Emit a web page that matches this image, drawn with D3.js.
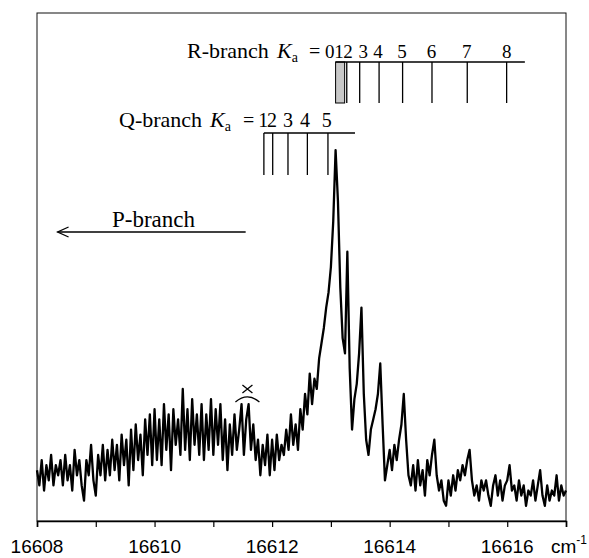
<!DOCTYPE html>
<html>
<head>
<meta charset="utf-8">
<script src="https://cdn.jsdelivr.net/npm/d3@7"></script>
<style>
    body { margin: 0; background: #fff; }
    .serif { font-family: "Liberation Serif", "Times New Roman", serif; }
    .sans { font-family: "Liberation Sans", Arial, sans-serif; }
</style>
</head>
<body>
<div id="chart"></div>
<script>
// spectrum, sampled every 0.04 cm-1 starting at 16608
var waveStart = 16608;
var waveStep = 0.04;
var intensity = [
    10, 7, 12, 6, 11, 8, 13, 7, 11, 9,
    12, 7, 13, 8, 11, 6, 14, 9, 12, 7,
    4, 12, 9, 15, 8, 5, 13, 9, 15, 8,
    14, 9, 16, 10, 15, 8, 17, 11, 16, 7,
    18, 10, 19, 12, 17, 9, 20, 13, 21, 11,
    22, 12, 20, 11, 23, 14, 21, 10, 22, 15,
    20, 13, 26, 14, 22, 12, 24, 15, 21, 13,
    23, 12, 21, 14, 24, 13, 22, 15, 23, 12,
    20, 10, 19, 13, 21, 14, 18, 23, 13, 20,
    23, 14, 19, 12, 16, 9, 15, 11, 17, 9,
    16, 10, 17, 12, 15, 13, 18, 14, 21, 15,
    19, 14, 22, 18, 25, 21, 29, 23, 28, 26,
    32, 35, 38, 42, 45, 50, 59, 73, 63, 46,
    36, 33, 53, 30, 18, 24, 27, 33, 42, 25,
    16, 13, 18, 20, 22, 25, 31, 19, 8, 11,
    14, 10, 15, 12, 16, 19, 25, 16, 9, 7,
    11, 6, 12, 7, 10, 5, 12, 9, 13, 16,
    9, 6, 8, 4, 3, 8, 5, 9, 6, 10,
    8, 11, 9, 12, 14, 8, 5, 7, 4, 8,
    6, 8, 5, 3, 7, 9, 5, 8, 4, 7,
    8, 11, 6, 7, 4, 8, 5, 7, 3, 6,
    5, 8, 4, 7, 10, 5, 3, 7, 4, 6,
    5, 9, 4, 7, 5, 6
];

var xTicks = [16608, 16609, 16610, 16611, 16612, 16613, 16614, 16615, 16616, 16617];
var xTickLabels = [16608, 16610, 16612, 16614, 16616];

// assignment combs
var rLines = [16613.08, 16613.20, 16613.27, 16613.49, 16613.82, 16614.22, 16614.72, 16615.32, 16615.99];
var rLabels = ["0", "1", "2", "3", "4", "5", "6", "7", "8"];
var rLabelPos = [16612.98, 16613.14, 16613.29, 16613.55, 16613.80, 16614.21, 16614.71, 16615.31, 16615.99];
var rEnd = 16616.30;
var qLines = [16611.86, 16612.01, 16612.27, 16612.60, 16612.95];
var qLabels = ["1", "2", "3", "4", "5"];
var qLabelPos = [16611.85, 16612.00, 16612.27, 16612.56, 16612.93];
var qEnd = 16613.41;

// P-branch arrow (from, to) and the crossed-out feature
var pArrow = [16611.55, 16608.35];
var crossMark = [16611.58, 26];

var width = 589, height = 558;
var margin = {left: 37, right: 23, top: 13, bottom: 37};

var svg = d3.select("#chart").append("svg")
    .attr("width", width)
    .attr("height", height);

var x = d3.scaleLinear()
    .domain([16608, 16617])
    .range([margin.left, width - margin.right]);
var y = d3.scaleLinear()
    .domain([0, 100])
    .range([height - margin.bottom, margin.top]);

// frame
svg.append("rect")
    .attr("x", x(16608))
    .attr("y", y(100))
    .attr("width", x(16617) - x(16608))
    .attr("height", y(0) - y(100))
    .attr("fill", "none")
    .attr("stroke", "#111")
    .attr("stroke-width", 1);

// x axis
var axis = d3.axisBottom(x)
    .tickValues(xTicks)
    .tickSize(6)
    .tickFormat("");
var gx = svg.append("g")
    .attr("transform", "translate(0," + y(0) + ")")
    .call(axis);
gx.select(".domain").attr("stroke-width", 1.6);
gx.selectAll(".tick line").attr("stroke-width", 1.2);

svg.selectAll(".xlab")
    .data(xTickLabels)
    .enter().append("text")
    .attr("class", "xlab sans")
    .attr("x", function (d) { return x(d); })
    .attr("y", 553)
    .attr("text-anchor", "middle")
    .attr("font-size", 19)
    .text(function (d) { return d; });

var unit = svg.append("text")
    .attr("class", "sans")
    .attr("x", 551)
    .attr("y", 553)
    .attr("font-size", 19)
    .text("cm");
unit.append("tspan")
    .attr("font-size", 12)
    .attr("dy", -9)
    .text("-1");

// spectrum trace
var line = d3.line()
    .x(function (d, i) { return x(waveStart + i * waveStep); })
    .y(function (d) { return y(d); });
svg.append("path")
    .datum(intensity)
    .attr("d", line)
    .attr("fill", "none")
    .attr("stroke", "#000")
    .attr("stroke-width", 2.3)
    .attr("stroke-linejoin", "round");

// label "X-branch Ka =" with its pieces at fixed x
function branchLabel(name, x0, xK, xEq, yb) {
    var t = svg.append("text")
        .attr("class", "serif")
        .attr("x", x0)
        .attr("y", yb)
        .attr("font-size", 22);
    t.append("tspan").text(name);
    t.append("tspan").attr("x", xK).attr("font-style", "italic").text("K");
    t.append("tspan").attr("font-size", 14).attr("dy", 4).text("a");
    t.append("tspan").attr("x", xEq).attr("dy", -4).attr("font-size", 20).text("=");
}

// R-branch comb
var rY = 62, rLen = 41;
branchLabel("R-branch", 187, 277, 309, 58);

svg.append("rect")
    .attr("x", x(rLines[0]))
    .attr("y", rY)
    .attr("width", x(rLines[1]) - x(rLines[0]) + 2)
    .attr("height", rLen)
    .attr("fill", "#c8c8c8")
    .attr("stroke", "#000")
    .attr("stroke-width", 1);
svg.append("line")
    .attr("x1", x(rLines[0])).attr("x2", x(rEnd))
    .attr("y1", rY).attr("y2", rY)
    .attr("stroke", "#000").attr("stroke-width", 1.4);
svg.selectAll(".rline")
    .data(rLines.slice(2))
    .enter().append("line")
    .attr("class", "rline")
    .attr("x1", function (d) { return x(d); })
    .attr("x2", function (d) { return x(d); })
    .attr("y1", rY).attr("y2", rY + rLen)
    .attr("stroke", "#000").attr("stroke-width", 1.3);
svg.selectAll(".rlab")
    .data(rLabels)
    .enter().append("text")
    .attr("class", "rlab serif")
    .attr("x", function (d, i) { return x(rLabelPos[i]); })
    .attr("y", 58)
    .attr("text-anchor", "middle")
    .attr("font-size", 19)
    .text(function (d) { return d; });

// Q-branch comb
var qY = 133, qLen = 42;
branchLabel("Q-branch", 119, 210, 243, 127);

svg.append("line")
    .attr("x1", x(qLines[0])).attr("x2", x(qEnd))
    .attr("y1", qY).attr("y2", qY)
    .attr("stroke", "#000").attr("stroke-width", 1.4);
svg.selectAll(".qline")
    .data(qLines)
    .enter().append("line")
    .attr("class", "qline")
    .attr("x1", function (d) { return x(d); })
    .attr("x2", function (d) { return x(d); })
    .attr("y1", qY).attr("y2", qY + qLen)
    .attr("stroke", "#000").attr("stroke-width", 1.3);
svg.selectAll(".qlab")
    .data(qLabels)
    .enter().append("text")
    .attr("class", "qlab serif")
    .attr("x", function (d, i) { return x(qLabelPos[i]); })
    .attr("y", 127)
    .attr("text-anchor", "middle")
    .attr("font-size", 20)
    .text(function (d) { return d; });

// P-branch arrow
var pY = 232;
svg.append("text")
    .attr("class", "serif")
    .attr("x", 112)
    .attr("y", 227)
    .attr("font-size", 23)
    .text("P-branch");
svg.append("line")
    .attr("x1", x(pArrow[0])).attr("x2", x(pArrow[1]))
    .attr("y1", pY).attr("y2", pY)
    .attr("stroke", "#000").attr("stroke-width", 1.3);
svg.append("path")
    .attr("d", "M" + (x(pArrow[1]) + 11) + "," + (pY - 5) + "L" + x(pArrow[1]) + "," + pY + "L" + (x(pArrow[1]) + 11) + "," + (pY + 5))
    .attr("fill", "none")
    .attr("stroke", "#000").attr("stroke-width", 1.3);

// crossed feature marker
var cx = x(crossMark[0]), cy = y(crossMark[1]);
svg.append("path")
    .attr("d", "M" + (cx - 5) + "," + (cy - 4) + "L" + (cx + 5) + "," + (cy + 4) +
        "M" + (cx + 5) + "," + (cy - 4) + "L" + (cx - 5) + "," + (cy + 4))
    .attr("fill", "none")
    .attr("stroke", "#000").attr("stroke-width", 1.3);
svg.append("path")
    .attr("d", "M" + (cx - 12) + "," + (cy + 13) + "Q" + cx + "," + (cy + 3) + " " + (cx + 12) + "," + (cy + 13))
    .attr("fill", "none")
    .attr("stroke", "#000").attr("stroke-width", 1.3);
</script>
</body>
</html>
